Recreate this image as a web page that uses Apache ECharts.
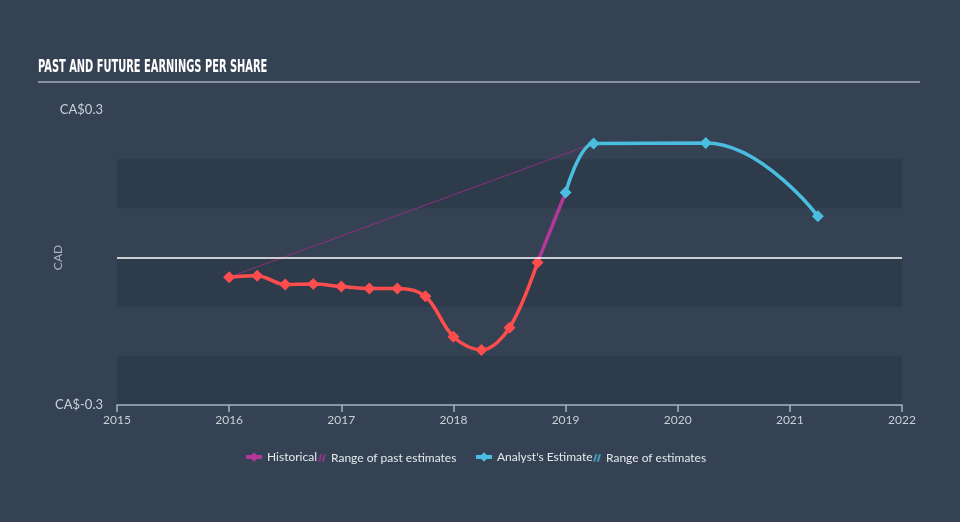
<!DOCTYPE html>
<html>
<head>
<meta charset="utf-8">
<script src="https://cdn.jsdelivr.net/npm/echarts@6/dist/echarts.min.js"></script>
<style>
html,body{margin:0;padding:0;background:#344253;}
#chart{width:960px;height:522px;}
</style>
</head>
<body>
<div id="chart"></div>
<script>
// ---- data ----
var historicalDates = [2016, 2016.25, 2016.5, 2016.75, 2017, 2017.25, 2017.5, 2017.75, 2018, 2018.25, 2018.5, 2018.75];
var historicalEps   = [-0.040, -0.037, -0.055, -0.054, -0.059, -0.063, -0.063, -0.079, -0.161, -0.188, -0.143, -0.010];
var transitionDates = [2018.75, 2019];
var transitionEps   = [-0.010, 0.132];
var estimateDates   = [2019, 2019.25, 2020.25, 2021.25];
var estimateEps     = [0.132, 0.232, 0.233, 0.084];
var pastRangeDates  = [2016, 2019.25];
var pastRangeEps    = [-0.040, 0.232];
var yTickLabels     = {min: 'CA$-0.3', max: 'CA$0.3'};
var xMin = 2015, xMax = 2022;

function pairs(xs, ys){ return xs.map(function(x,i){ return [x, ys[i]]; }); }

var RED = '#ff4d4d', PURPLE = '#b2399a', BLUE = '#4bbde0', THIN = '#8e2f7e';
var TXT = '#c9d0d8';
var hatch = 'path://M0,10 L3,10 L6,0 L3,0 Z M5,10 L8,10 L11,0 L8,0 Z';
var legendText = {color: '#e6e9ee', fontSize: 12};

var chart = echarts.init(document.getElementById('chart'), null, {renderer:'canvas'});
var option = {
  backgroundColor: '#344253',
  animation: false,
  textStyle: {fontFamily: 'Lato, "Open Sans", sans-serif'},
  grid: {left: 117, right: 58, top: 110, bottom: 117},
  graphic: [
    {type:'text', left: 38, top: 58, scaleX: 0.61, originX: 0,
     style:{text:'PAST AND FUTURE EARNINGS PER SHARE', font:'bold 18px "DejaVu Sans Condensed", sans-serif', fill:'#ffffff'}},
    {type:'line', shape:{x1:38, y1:82, x2:920, y2:82}, style:{stroke:'#a3acb6', lineWidth:1.5}}
  ],
  xAxis: {
    type: 'value', min: xMin, max: xMax, interval: 1,
    axisLine: {show: true, onZero: false, lineStyle: {color: '#a5b4c2', width: 1.5}},
    axisTick: {show: true, length: 7, lineStyle: {color: '#a5b4c2', width: 1.5}},
    axisLabel: {color: TXT, fontSize: 12, margin: 9, formatter: function(v){ return String(v); }},
    splitLine: {show: false}
  },
  yAxis: {
    type: 'value', min: -0.3, max: 0.3, interval: 0.1,
    name: 'CAD', nameLocation: 'middle', nameGap: 53, nameRotate: 90, nameMoveOverlap: false,
    nameTextStyle: {color: '#aeb6c0', fontSize: 12},
    axisLine: {show: false}, axisTick: {show: false},
    axisLabel: {color: TXT, fontSize: 13, margin: 14,
      formatter: function(v){
        if (Math.abs(v - 0.3) < 1e-9) return yTickLabels.max;
        if (Math.abs(v + 0.3) < 1e-9) return yTickLabels.min;
        return '';
      }},
    splitLine: {show: false},
    splitArea: {show: true, areaStyle: {color: ['#2e3b4b', 'rgba(0,0,0,0)']}}
  },
  legend: [
    {left: 244, top: 451, padding: 0, itemWidth: 16, itemHeight: 12, textStyle: legendText,
     data: [{name: 'Historical', itemStyle: {color: PURPLE}, lineStyle: {color: PURPLE, width: 4}}]},
    {left: 318, top: 452, padding: 0, itemWidth: 8, itemHeight: 9, itemGap: 4, textStyle: legendText,
     data: [{name: 'Range of past estimates', icon: hatch, itemStyle: {color: '#8a3a80'}}]},
    {left: 474, top: 451, padding: 0, itemWidth: 16, itemHeight: 12, textStyle: legendText,
     data: [{name: "Analyst's Estimate", itemStyle: {color: BLUE}, lineStyle: {color: BLUE, width: 4}}]},
    {left: 593, top: 452, padding: 0, itemWidth: 8, itemHeight: 9, textStyle: legendText,
     data: [{name: 'Range of estimates', icon: hatch, itemStyle: {color: '#4596ba'}}]}
  ],
  series: [
    {name: 'Range of past estimates', type: 'line', data: pairs(pastRangeDates, pastRangeEps),
     symbol: 'none', lineStyle: {color: THIN, width: 1}, itemStyle: {color: '#8a3a80'}, z: 2,
     markLine: {silent: true, symbol: 'none', label: {show: false},
       lineStyle: {color: '#ffffff', width: 1.5, type: 'solid'}, data: [{yAxis: 0}]}},
    {name: 'Historical transition', type: 'line', data: pairs(transitionDates, transitionEps),
     symbol: 'none', lineStyle: {color: PURPLE, width: 3.5}, z: 3},
    {name: 'Historical', type: 'line', data: pairs(historicalDates, historicalEps),
     smooth: 0.35, symbol: 'diamond', symbolSize: 12, showSymbol: true,
     lineStyle: {color: RED, width: 3.5}, itemStyle: {color: RED}, z: 4},
    {name: "Analyst's Estimate", type: 'line', data: pairs(estimateDates, estimateEps),
     smooth: 0.5, smoothMonotone: 'x', symbol: 'diamond', symbolSize: 12, showSymbol: true,
     lineStyle: {color: BLUE, width: 3.5}, itemStyle: {color: BLUE}, z: 4},
    {name: 'Range of estimates', type: 'line', data: [], itemStyle: {color: '#4596ba'}}
  ]
};
chart.setOption(option);
</script>
</body>
</html>
